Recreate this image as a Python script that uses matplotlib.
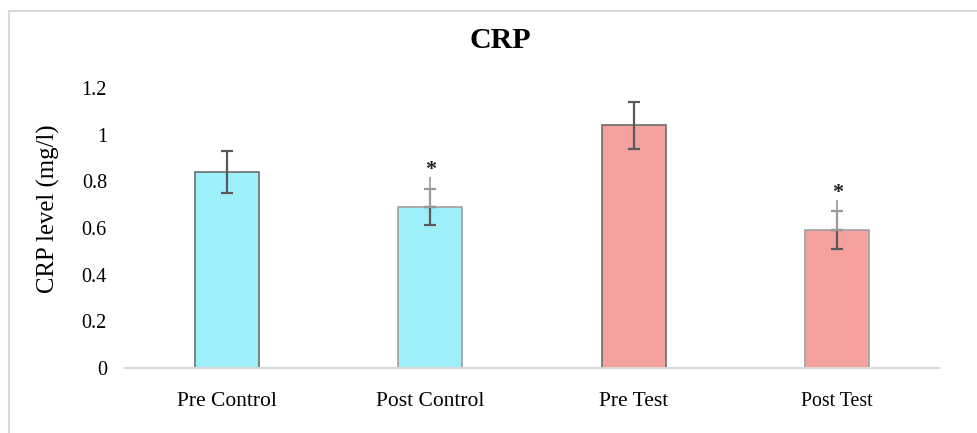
import matplotlib
matplotlib.use('Agg')
import matplotlib.pyplot as plt
import numpy as np
from matplotlib.patches import Rectangle

plt.rcParams['font.family'] = ['Liberation Serif', 'DejaVu Serif']

groups = ['Pre Control', 'Post Control', 'Pre Test', 'Post Test']
crp_mean = [0.84, 0.69, 1.04, 0.59]
crp_err = [0.09, 0.076, 0.10, 0.082]
# grey significance stems drawn above the post bars
sig_top = [np.nan, 0.82, np.nan, 0.72]
sig_mark = ['', '*', '', '*']

fill_cols = ['#9DEFF9', '#9DEFF9', '#F5A19D', '#F5A19D']
edge_cols = ['#6E6E6E', '#A0A0A0', '#6E6E6E', '#A0A0A0']
label_sizes = [15.5, 15.5, 15.5, 14.3]

W, H = 978, 433
fig = plt.figure(figsize=(W / 100, H / 100), dpi=100)
ax = fig.add_axes([125 / W, 65 / H, 814 / W, 280 / H])

# chart border (top and left visible in the original)
fig.patches.append(Rectangle((9 / W, -0.1), 1.2, (H - 11) / H + 0.1,
                             transform=fig.transFigure, fill=False,
                             edgecolor='#D9D9D9', linewidth=1.5))

x = np.arange(len(groups))
ax.bar(x, crp_mean, width=0.315, color=fill_cols, edgecolor=edge_cols,
       linewidth=1.2, zorder=2)

for i in range(len(groups)):
    if np.isnan(sig_top[i]):
        ax.errorbar(x[i], crp_mean[i], yerr=crp_err[i], fmt='none',
                    ecolor='#595959', elinewidth=1.6, capsize=4.3,
                    capthick=1.6, zorder=3)
    else:
        # lower half dark, upper half lighter grey with a stem above
        ax.errorbar(x[i], crp_mean[i], yerr=[[crp_err[i]], [0]], fmt='none',
                    ecolor='#595959', elinewidth=1.6, capsize=4.3,
                    capthick=1.6, zorder=3)
        ax.errorbar(x[i], crp_mean[i], yerr=[[0], [crp_err[i]]], fmt='none',
                    ecolor='#9A9A9A', elinewidth=1.6, capsize=4.3,
                    capthick=1.6, zorder=3)
        ax.vlines(x[i], crp_mean[i], sig_top[i], colors='#9A9A9A',
                  linewidth=1.2, zorder=3)
        ax.annotate(sig_mark[i], (x[i], sig_top[i]), xytext=(0, -2.5),
                    textcoords='offset points', ha='center', va='bottom',
                    fontsize=16, fontweight='bold', color='#222222')

ax.set_xlim(-0.5, 3.5)
ax.set_ylim(0, 1.2)
ax.set_yticks([0, 0.2, 0.4, 0.6, 0.8, 1.0, 1.2])
ax.set_yticklabels(['0', '0.2', '0.4', '0.6', '0.8', '1', '1.2'])
ax.set_xticks(x)
ax.set_xticklabels(groups)
for lbl, fs in zip(ax.get_xticklabels(), label_sizes):
    lbl.set_fontsize(fs)
ax.tick_params(axis='y', length=0, pad=13, labelsize=14.5)
ax.tick_params(axis='x', length=0, pad=17.5)

for side in ['top', 'right', 'left']:
    ax.spines[side].set_visible(False)
ax.spines['bottom'].set_color('#D9D9D9')
ax.spines['bottom'].set_linewidth(1.5)

ax.set_ylabel('CRP level (mg/l)', fontsize=17.8)
ax.yaxis.set_label_coords(-0.080, 0.568)

fig.text(500 / W, 1 - 41 / H, 'CRP', ha='center', va='center',
         fontsize=21.5, fontweight='bold')

plt.savefig('out.png', dpi=100)
